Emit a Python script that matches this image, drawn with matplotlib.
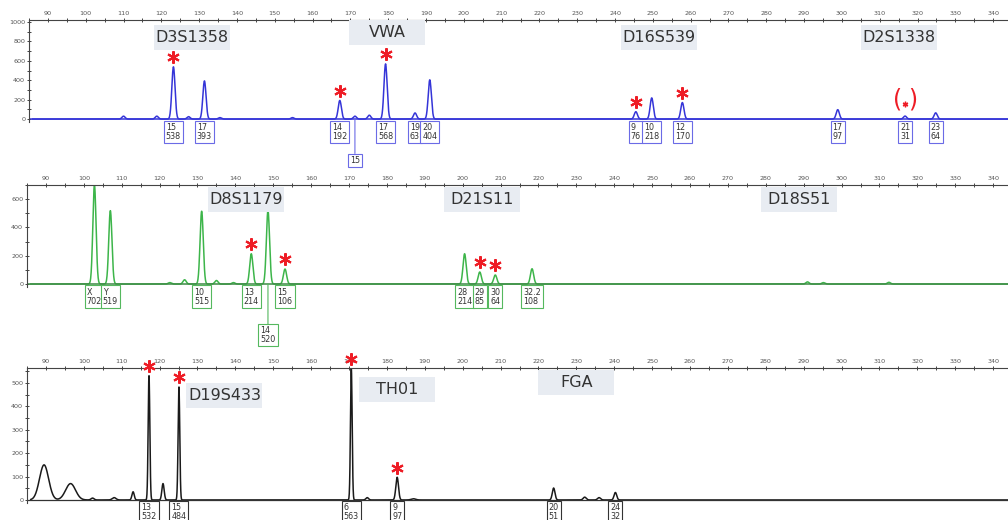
import numpy as np
import matplotlib
matplotlib.use("Agg")
import matplotlib.pyplot as plt
from matplotlib.patches import Rectangle
from matplotlib.transforms import offset_copy

# ---- blue dye (peaks: size in bp, height in RFU) ----
blue_bp = [110.0, 118.8, 123.2, 127.2, 131.4, 135.5, 154.7, 167.2, 171.2, 175.0,
           179.3, 187.1, 191.0, 245.5, 249.7, 257.8, 298.9, 316.7, 324.8]
blue_rfu = [30, 30, 538, 25, 393, 15, 15, 192, 30, 40,
            568, 63, 404, 76, 218, 170, 97, 31, 64]
blue_alleles = [("15", "538", 123.2), ("17", "393", 131.4), ("14", "192", 167.2),
                ("17", "568", 179.3), ("19", "63", 187.1), ("20", "404", 191.0),
                ("9", "76", 245.5), ("10", "218", 249.7), ("12", "170", 257.8),
                ("17", "97", 298.9), ("21", "31", 316.7), ("23", "64", 324.8)]
blue_dropped = [("15", "", 171.2)]
blue_marked = [123.2, 167.2, 179.3, 245.5, 257.8]
blue_loci = [("D3S1358", 128.2), ("VWA", 179.8), ("D16S539", 251.5), ("D2S1338", 315.1)]

# ---- green dye ----
green_bp = [102.8, 107.0, 122.7, 126.6, 131.1, 135.0, 139.5, 144.2, 148.6, 153.1,
            200.5, 204.5, 208.6, 218.3, 291.0, 295.2, 312.5]
green_rfu = [702, 519, 10, 30, 515, 25, 10, 214, 520, 106,
             214, 85, 64, 108, 15, 10, 12]
green_alleles = [("X", "702", 102.8), ("Y", "519", 107.0), ("10", "515", 131.1),
                 ("13", "214", 144.2), ("15", "106", 153.1), ("28", "214", 200.5),
                 ("29", "85", 204.5), ("30", "64", 208.6), ("32.2", "108", 218.3)]
green_dropped = [("14", "520", 148.6)]
green_marked = [144.2, 153.1, 204.5, 208.6]
green_loci = [("D8S1179", 142.9), ("D21S11", 205.2), ("D18S51", 288.7)]

# ---- yellow dye (drawn black) ----
black_bp = [89.5, 96.5, 102.3, 108.0, 113.0, 117.2, 120.9, 125.1, 170.6, 174.8,
            182.7, 187.0, 224.0, 232.2, 236.0, 240.3]
black_rfu = [150, 70, 8, 10, 35, 532, 70, 484, 563, 10,
             97, 5, 51, 12, 10, 32]
black_width = [1.2, 1.3, 0.4, 0.5, 0.3, 0.22, 0.3, 0.22, 0.22, 0.35,
               0.35, 0.6, 0.35, 0.4, 0.4, 0.35]
black_alleles = [("13", "532", 117.2), ("15", "484", 125.1), ("6", "563", 170.6),
                 ("9", "97", 182.7), ("20", "51", 224.0), ("24", "32", 240.3)]
black_marked = [117.2, 125.1, 170.6, 182.7]
black_loci = [("D19S433", 137.1), ("TH01", 182.7), ("FGA", 230.0)]

PX_PER_BP = 3.82  # 10 bp = 38.2 px in the reference
FIG_W, FIG_H = 1008, 520


def trace(bps, rfus, widths, grid):
    y = np.zeros_like(grid)
    for b, h, w in zip(bps, rfus, widths):
        y += h * np.exp(-0.5 * ((grid - b) / w) ** 2)
    return y


def make_panel(fig, left_px, top_px, bottom_px, ylim, yticks, yminor):
    ax = fig.add_axes([left_px / FIG_W, 1 - bottom_px / FIG_H,
                       1 - left_px / FIG_W, (bottom_px - top_px) / FIG_H])
    ax.set_xlim(90 - (38 - left_px) / PX_PER_BP, 90 + (FIG_W - 38) / PX_PER_BP)
    ax.set_ylim(*ylim)
    ax.xaxis.tick_top()
    ax.set_xticks(np.arange(90, 341, 10))
    ax.set_xticks(np.arange(85, 345, 5), minor=True)
    ax.set_yticks(yticks)
    ax.set_yticks(yminor, minor=True)
    ax.tick_params(axis="both", which="both", direction="inout", length=3.5,
                   width=0.7, color="#444444", labelsize=4.6, labelcolor="#555555", pad=1)
    ax.tick_params(axis="both", which="minor", length=2.5)
    ax.spines[["bottom", "right"]].set_visible(False)
    for s in ("top", "left"):
        ax.spines[s].set_color("#444444")
        ax.spines[s].set_linewidth(0.8)
    ax.patch.set_alpha(0)
    return ax


def add_loci(ax, loci, yfrac, box_px=(76, 25)):
    bb = ax.get_position()
    w = box_px[0] / (bb.width * FIG_W)
    h = box_px[1] / (bb.height * FIG_H)
    x0, x1 = ax.get_xlim()
    for (name, bp), yf in zip(loci, yfrac):
        xf = (bp - x0) / (x1 - x0)
        ax.add_patch(Rectangle((xf - w / 2, yf - h / 2), w, h, transform=ax.transAxes,
                               facecolor="#e8ecf2", edgecolor="none", zorder=5,
                               clip_on=False))
        ax.text(xf, yf, name, transform=ax.transAxes, ha="center", va="center",
                fontsize=11.5, color="#333333", zorder=6)


def add_allele_boxes(ax, alleles, color, drop=0):
    for a, h, bp in alleles:
        txt = a if not h else a + "\n" + h
        kw = {}
        if drop:
            kw["arrowprops"] = dict(arrowstyle="-", color=color, lw=0.8,
                                    shrinkA=0, shrinkB=0)
        ax.annotate(txt, xy=(bp, 0), xytext=(0, -2.5 - drop), textcoords="offset points",
                    ha="center", va="top", fontsize=5.8, color="#333333",
                    linespacing=1.0, multialignment="left", annotation_clip=False,
                    bbox=dict(boxstyle="square,pad=0.25", fc="white", ec=color, lw=0.8),
                    **kw)


def add_marks(ax, fig, bps, all_bp, all_rfu):
    tr = offset_copy(ax.transData, fig=fig, x=0, y=7, units="points")
    for bp in bps:
        h = all_rfu[all_bp.index(bp)]
        h = min(h, ax.get_ylim()[1])
        ax.plot(bp, h, marker=(6, 2, 0), markersize=9, mew=1.5, color="#ee1c25",
                transform=tr, clip_on=False, zorder=7)


fig = plt.figure(figsize=(FIG_W / 100, FIG_H / 100), dpi=100)
grid = np.linspace(86, 345, 6000)

# top panel (blue)
ax1 = make_panel(fig, 29, 20, 122, (-30, 1020), np.arange(0, 1001, 200), np.arange(0, 1001, 100))
ax1.plot(grid, trace(blue_bp, blue_rfu, [0.42] * len(blue_bp), grid),
         color="#3535d8", lw=1.1)
ax1.axhline(0, color="#3535d8", lw=1.1)
add_allele_boxes(ax1, blue_alleles, "#6b6be6")
add_allele_boxes(ax1, blue_dropped, "#6b6be6", drop=24)
add_marks(ax1, fig, blue_marked, blue_bp, blue_rfu)
add_loci(ax1, blue_loci, [0.83, 0.88, 0.83, 0.83])
# weak allele marked in brackets
ax1.text(316.0, 80, "(", color="#ee1c25", fontsize=17, ha="right", va="bottom")
ax1.text(317.6, 80, ")", color="#ee1c25", fontsize=17, ha="left", va="bottom")
ax1.plot(316.8, 160, marker=(6, 2, 0), markersize=4, mew=1, color="#ee1c25")

# middle panel (green)
ax2 = make_panel(fig, 27, 185, 287, (-21, 699), np.arange(0, 601, 200), np.arange(0, 701, 100))
ax2.plot(grid, trace(green_bp, green_rfu, [0.42] * len(green_bp), grid),
         color="#3db54a", lw=1.1, clip_on=True)
ax2.axhline(0, color="#3d8a45", lw=1.1)
add_allele_boxes(ax2, green_alleles, "#55b85e")
add_allele_boxes(ax2, green_dropped, "#55b85e", drop=28)
add_marks(ax2, fig, green_marked, green_bp, green_rfu)
add_loci(ax2, green_loci, [0.853, 0.853, 0.853])

# bottom panel (black)
ax3 = make_panel(fig, 27, 368, 503, (-13, 564), np.arange(0, 501, 100), np.arange(0, 564, 50))
ax3.plot(grid, trace(black_bp, black_rfu, black_width, grid), color="#1a1a1a", lw=1.1)
ax3.axhline(0, color="#333333", lw=0.9)
add_allele_boxes(ax3, black_alleles, "#333333")
add_marks(ax3, fig, black_marked, black_bp, black_rfu)
add_loci(ax3, black_loci, [0.80, 0.844, 0.889])

fig.savefig("out.png", dpi=100)
